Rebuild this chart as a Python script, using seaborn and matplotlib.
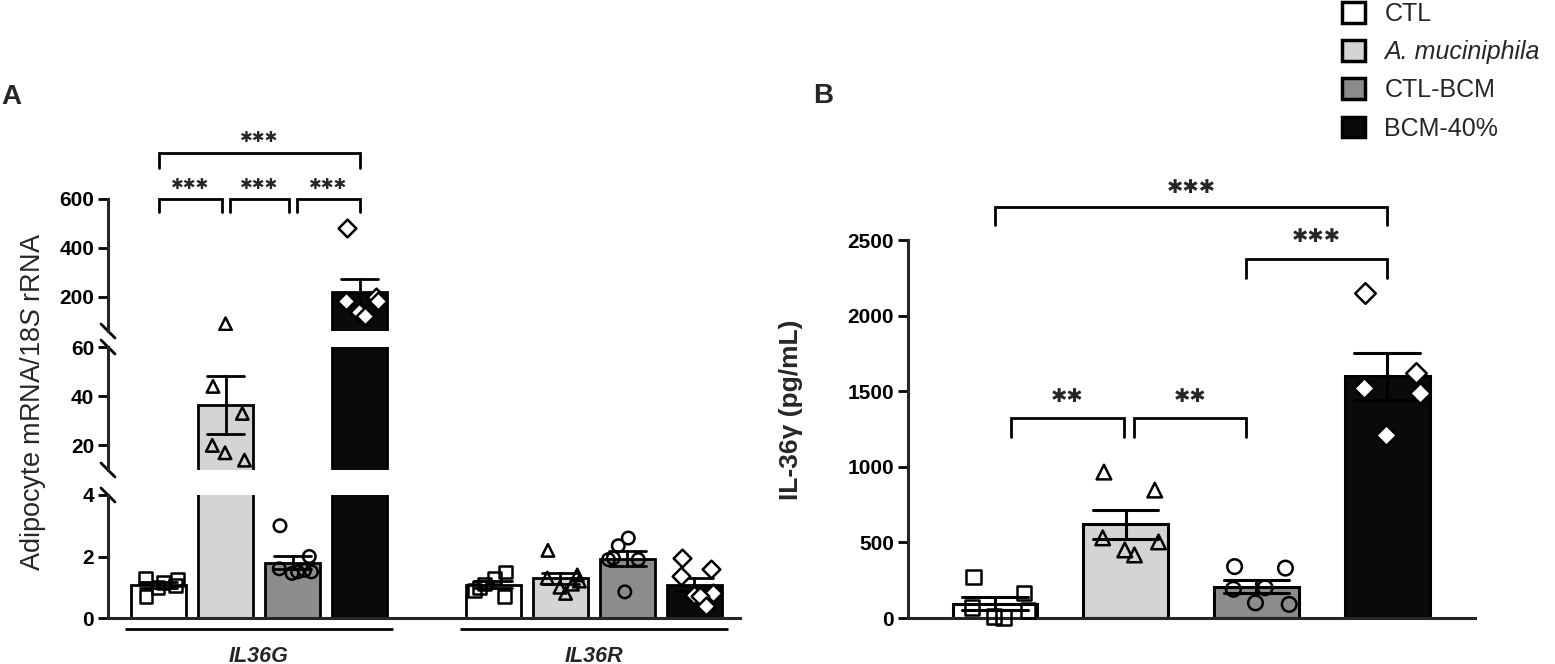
import numpy as np
import pandas as pd
import matplotlib
matplotlib.use("Agg")
import matplotlib.pyplot as plt
import matplotlib.transforms as mtrans
from matplotlib.patches import Patch
import seaborn as sns

# ---------------- data ----------------
groups = ["CTL", "A. muciniphila", "CTL-BCM", "BCM-40%"]
genes = ["IL36G", "IL36R"]
colors = ["#ffffff", "#d4d4d4", "#8c8c8c", "#0a0a0a"]
markers = ["s", "^", "o", "D"]

# Panel A: adipocyte mRNA / 18S rRNA (individual replicates)
il36g_ctl = [0.7, 1.05, 1.3, 1.25, 1.0, 1.15]
il36g_akk = [90, 44, 33, 20, 14, 17]
il36g_ctlbcm = [3.0, 2.0, 1.6, 1.5, 1.45, 1.5, 1.55]
il36g_bcm40 = [482, 200, 184, 184, 139, 122]

il36r_ctl = [1.5, 1.3, 1.1, 1.0, 0.9, 0.7]
il36r_akk = [2.2, 1.4, 1.3, 1.2, 1.0, 0.8, 1.1]
il36r_ctlbcm = [2.6, 2.35, 1.95, 1.9, 1.9, 0.85]
il36r_bcm40 = [1.95, 1.6, 1.35, 0.8, 0.75, 0.7, 0.4]

# Panel B: IL-36gamma (pg/mL)
il36y_ctl = [270, 165, 70, 50, 10, 5]
il36y_akk = [965, 846, 530, 503, 450, 417]
il36y_ctlbcm = [340, 330, 190, 90, 100, 200]
il36y_bcm40 = [2150, 1620, 1520, 1488, 1210]

a_ticks_bot = [0, 2, 4]
a_ticks_mid = [20, 40, 60]
a_ticks_top = [200, 400, 600]
b_ticks = [0, 500, 1000, 1500, 2000, 2500]

# ---------------- tidy frames ----------------
rowsA = []
for gene, series in zip(genes, [[il36g_ctl, il36g_akk, il36g_ctlbcm, il36g_bcm40],
                                [il36r_ctl, il36r_akk, il36r_ctlbcm, il36r_bcm40]]):
    for g, vals in zip(groups, series):
        for v in vals:
            rowsA.append((gene, g, v))
dfA = pd.DataFrame(rowsA, columns=["gene", "group", "value"])

rowsB = []
for g, vals in zip(groups, [il36y_ctl, il36y_akk, il36y_ctlbcm, il36y_bcm40]):
    for v in vals:
        rowsB.append((g, v))
dfB = pd.DataFrame(rowsB, columns=["group", "value"])

pal = dict(zip(groups, colors))

# ---------------- style ----------------
sns.set_style("ticks")
plt.rcParams["font.family"] = ["Liberation Sans", "DejaVu Sans"]
plt.rcParams["mathtext.fontset"] = "custom"
plt.rcParams["mathtext.rm"] = "Liberation Sans"
plt.rcParams["mathtext.it"] = "Liberation Sans:italic"

W, H = 1555, 664
fig = plt.figure(figsize=(W / 100, H / 100), dpi=100)


def px_rect(x0, y_top, x1, y_bot):
    return [x0 / W, 1 - y_bot / H, (x1 - x0) / W, (y_bot - y_top) / H]


ax_top = fig.add_axes(px_rect(108, 199, 740, 331))
ax_mid = fig.add_axes(px_rect(108, 347, 740, 470))
ax_bot = fig.add_axes(px_rect(108, 495, 740, 618))
axB = fig.add_axes(px_rect(908, 240, 1475, 618))

SP_LW = 2.2
TICK_FS = 15


def style_axis(ax, yticks, ylim, bottom=False):
    ax.set_ylim(*ylim)
    ax.set_yticks(yticks)
    ax.set_yticklabels([str(t) for t in yticks], fontweight="bold", fontsize=TICK_FS)
    ax.tick_params(axis="y", length=7, width=2, pad=3, colors="black")
    for s in ["top", "right"]:
        ax.spines[s].set_visible(False)
    ax.spines["left"].set_linewidth(SP_LW)
    if bottom:
        ax.spines["bottom"].set_linewidth(SP_LW)
    else:
        ax.spines["bottom"].set_visible(False)
        ax.set_xticks([])
    ax.set_xlabel("")
    ax.set_ylabel("")


def draw_points(ax, df, x, order, dodge, size, jitter, clip=True):
    for g, m in zip(groups, markers):
        sub = df[df["group"] == g]
        if sub.empty:
            continue
        np.random.seed(5)
        n0 = len(ax.collections)
        sns.stripplot(data=sub, x=x, y="value", hue="group", hue_order=groups,
                      order=order, dodge=dodge, palette=pal, marker=m, size=size,
                      linewidth=1.8, edgecolor="black", jitter=jitter,
                      legend=False, ax=ax)
        for c in ax.collections[n0:]:
            c.set_facecolor("white" if g == "BCM-40%" else "none")
            c.set_edgecolor("black")
            offs = np.asarray(c.get_offsets())
            if offs.size and np.all(np.isfinite(offs)):
                c.set_clip_on(clip)


# ---------------- Panel A (broken axis) ----------------
for ax, ticks, lim, bot in [(ax_top, a_ticks_top, (60, 600), False),
                            (ax_mid, a_ticks_mid, (10, 60), False),
                            (ax_bot, a_ticks_bot, (0, 4), True)]:
    sns.barplot(data=dfA, x="gene", y="value", hue="group", hue_order=groups,
                order=genes, palette=pal, errorbar="se", capsize=0.45, gap=0.18,
                edgecolor="black", linewidth=2,
                err_kws={"color": "black", "linewidth": 2}, legend=False, ax=ax)
    seg = dfA[(dfA["value"] >= lim[0]) & (dfA["value"] <= lim[1])]
    draw_points(ax, seg, "gene", genes, True, 9, 0.27)
    ax.set_xlim(-0.451, 1.436)
    style_axis(ax, ticks, lim, bottom=bot)

ax_bot.set_xticks([0, 1])
ax_bot.set_xticklabels(genes, fontstyle="italic", fontweight="bold", fontsize=15.5)
ax_bot.tick_params(axis="x", length=0, pad=20)
blend = mtrans.blended_transform_factory(ax_bot.transData, ax_bot.transAxes)
for i in range(len(genes)):
    ax_bot.plot([i - 0.4, i + 0.4], [-0.09, -0.09], transform=blend,
                color="black", lw=2, clip_on=False, solid_capstyle="butt")


# break marks
def brk(ax, yfrac):
    bb = ax.get_position()
    dx = 7 / (bb.width * W)
    dy = 7 / (bb.height * H)
    ax.plot([-dx, dx], [yfrac + dy, yfrac - dy], transform=ax.transAxes,
            color="black", lw=2, clip_on=False)


brk(ax_top, 0)
brk(ax_mid, 1)
brk(ax_mid, 0)
brk(ax_bot, 1)

# bar centers (IL36G group) from the drawn patches
centersA = sorted(p.get_x() + p.get_width() / 2 for p in ax_top.patches)[:4]

STAR = "\u2731"


def bracket(ax, x1, x2, y, h, text, fs, ty):
    ax.plot([x1, x1, x2, x2], [y - h, y, y, y - h], color="black", lw=2,
            clip_on=False, solid_joinstyle="miter")
    ax.text((x1 + x2) / 2, ty, text, ha="center", va="center", fontsize=fs,
            family=["DejaVu Sans"], clip_on=False)


s = 0.012
c = centersA
bracket(ax_top, c[0], c[1] - s, 600, 53, STAR * 3, 11, 661)
bracket(ax_top, c[1] + s, c[2] - s, 600, 53, STAR * 3, 11, 661)
bracket(ax_top, c[2] + s, c[3], 600, 53, STAR * 3, 11, 661)
bracket(ax_top, c[0], c[3], 788, 61, STAR * 3, 11, 853)

# ---------------- Panel B ----------------
sns.barplot(data=dfB, x="group", y="value", hue="group", hue_order=groups,
            order=groups, palette=pal, errorbar="se", capsize=0.5, width=0.65,
            edgecolor="black", linewidth=2.2,
            err_kws={"color": "black", "linewidth": 2.2}, legend=False, ax=axB)
draw_points(axB, dfB, "group", groups, False, 10.5, 0.3, clip=False)
axB.set_xlim(-0.666, 3.673)
style_axis(axB, b_ticks, (0, 2500), bottom=True)
axB.set_xticks([])

bracket(axB, 0.0, 3.0, 2718, 119, STAR * 3, 14, 2850)
bracket(axB, 1.92, 3.0, 2374, 125, STAR * 3, 14, 2520)
bracket(axB, 0.12, 0.99, 1323, 126, STAR * 2, 14, 1462)
bracket(axB, 1.06, 1.92, 1323, 126, STAR * 2, 14, 1462)

# ---------------- labels ----------------
fig.text(33 / W, 1 - 402 / H, r"Adipocyte mRNA/$\mathit{18S}$ rRNA", rotation=90,
         ha="center", va="center", fontsize=19.5)
fig.text(791 / W, 1 - 410 / H, "IL-36\u03b3 (pg/mL)", rotation=90,
         ha="center", va="center", fontsize=19, fontweight="bold")
fig.text(11 / W, 1 - 97 / H, "A", ha="center", va="center", fontsize=20,
         fontweight="bold")
fig.text(823 / W, 1 - 96 / H, "B", ha="center", va="center", fontsize=20,
         fontweight="bold")

# ---------------- legend ----------------
handles = [Patch(facecolor=col, edgecolor="black", linewidth=2.5) for col in colors]
leg = fig.legend(handles, groups, loc="upper left",
                 bbox_to_anchor=(1342 / W, 0.997), frameon=False, fontsize=18,
                 handlelength=0.9, handleheight=0.9, handletextpad=0.8,
                 labelspacing=0.57, borderaxespad=0, borderpad=0)
leg.get_texts()[1].set_fontstyle("italic")

fig.savefig("out.png", dpi=100)
